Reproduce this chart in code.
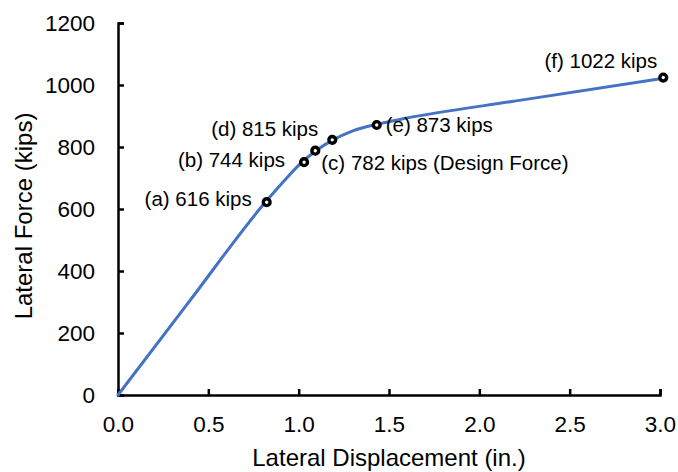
<!DOCTYPE html>
<html>
<head>
<meta charset="utf-8">
<script src="https://cdn.jsdelivr.net/npm/d3@7"></script>
<style>
    body { margin: 0; background: #fff; }
    svg { display: block; font-family: 'Liberation Sans', Arial, sans-serif; }
</style>
</head>
<body>
<div id="chart"></div>
<script>
// pushover curve
const curveDisp = [0, 0.4, 0.8, 0.915, 1.007, 1.096, 1.188, 1.3, 1.43, 1.56, 2.24, 3.02]
const curveForce = [0, 306, 611, 688, 745, 788, 822, 852, 873, 889, 952, 1022]

// marked points and their labels
const pointDisp = [0.823, 1.03, 1.092, 1.186, 1.432, 3.018]
const pointForce = [622, 751, 788, 823, 871, 1024]
const pointLabels = [
    '(a) 616 kips',
    '(b) 744 kips',
    '(c) 782 kips (Design Force)',
    '(d) 815 kips',
    '(e) 873 kips',
    '(f) 1022 kips',
]

const xTicks = [0, 0.5, 1, 1.5, 2, 2.5, 3]
const yTicks = [0, 200, 400, 600, 800, 1000, 1200]

const width = 678
const height = 472
const margin = { top: 23, right: 18, bottom: 77, left: 118 }

// label placement relative to its marker: [dx, dy, anchor]
const labelOffsets = [
    [-15, 3.5, 'end'],
    [-19, 4.5, 'end'],
    [6, 19, 'start'],
    [-14, -3.5, 'end'],
    [9, 7, 'start'],
    [-6, -10, 'end'],
]

const x = d3
    .scaleLinear()
    .domain([0, 3])
    .range([margin.left, width - margin.right])
const y = d3
    .scaleLinear()
    .domain([0, 1200])
    .range([height - margin.bottom, margin.top])

const svg = d3
    .select('#chart')
    .append('svg')
    .attr('width', width)
    .attr('height', height)

const xAxis = d3
    .axisBottom(x)
    .tickValues(xTicks)
    .tickSize(-6)
    .tickPadding(21)
    .tickFormat(d3.format('.1f'))
const yAxis = d3
    .axisLeft(y)
    .tickValues(yTicks)
    .tickSize(-6)
    .tickPadding(23)
    .tickFormat(d3.format('d'))

const xg = svg
    .append('g')
    .attr('transform', `translate(0, ${height - margin.bottom})`)
    .call(xAxis)
const yg = svg
    .append('g')
    .attr('transform', `translate(${margin.left}, 0)`)
    .call(yAxis)

;[xg, yg].forEach((g) => {
    g.selectAll('path, line').attr('stroke', '#000').attr('stroke-width', 2.5)
    g.selectAll('text')
        .attr('fill', '#000')
        .style('font-size', '22.5px')
        .style('font-family', "'Liberation Sans', Arial, sans-serif")
})

// curve
const curveData = curveDisp.map((d, i) => ({ disp: d, force: curveForce[i] }))
const line = d3
    .line()
    .x((d) => x(d.disp))
    .y((d) => y(d.force))
    .curve(d3.curveMonotoneX)

svg.append('path')
    .datum(curveData)
    .attr('d', line)
    .attr('fill', 'none')
    .attr('stroke', '#4472c4')
    .attr('stroke-width', 3)
    .attr('stroke-linecap', 'round')

// markers
const points = pointDisp.map((d, i) => ({
    disp: d,
    force: pointForce[i],
    label: pointLabels[i],
    off: labelOffsets[i],
}))

svg.selectAll('.marker')
    .data(points)
    .enter()
    .append('circle')
    .attr('class', 'marker')
    .attr('cx', (d) => x(d.disp))
    .attr('cy', (d) => y(d.force))
    .attr('r', 3.4)
    .attr('fill', '#fff')
    .attr('stroke', '#000')
    .attr('stroke-width', 3.4)

svg.selectAll('.point-label')
    .data(points)
    .enter()
    .append('text')
    .attr('class', 'point-label')
    .attr('x', (d) => x(d.disp) + d.off[0])
    .attr('y', (d) => y(d.force) + d.off[1])
    .attr('text-anchor', (d) => d.off[2])
    .style('font-size', '20.5px')
    .attr('fill', '#000')
    .text((d) => d.label)

// axis titles
svg.append('text')
    .attr('x', (margin.left + width - margin.right) / 2)
    .attr('y', 466)
    .attr('text-anchor', 'middle')
    .style('font-size', '24px')
    .text('Lateral Displacement (in.)')

svg.append('text')
    .attr('transform', 'translate(32, 216) rotate(-90)')
    .attr('text-anchor', 'middle')
    .style('font-size', '24px')
    .text('Lateral Force (kips)')
</script>
</body>
</html>
